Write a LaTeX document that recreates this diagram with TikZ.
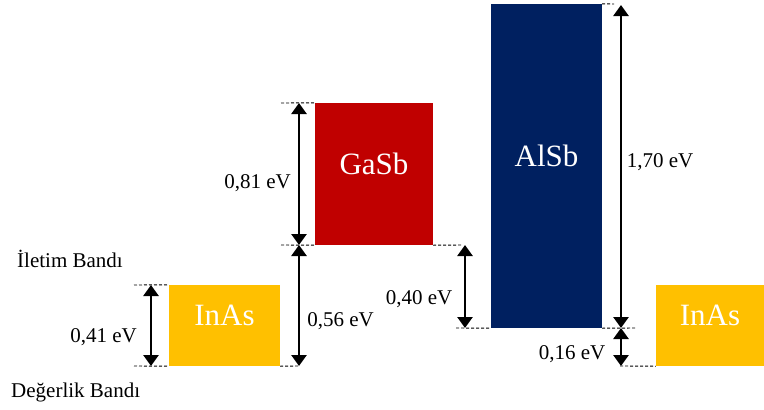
\documentclass[tikz,border=0pt]{standalone}
\usepackage{fontspec}
\setmainfont{Liberation Serif}
\usetikzlibrary{arrows.meta}
\definecolor{inascol}{HTML}{FFC000}
\definecolor{gasbcol}{HTML}{C00000}
\definecolor{alsbcol}{HTML}{002060}
\begin{document}
\begin{tikzpicture}[x=1pt,y=-1pt,
  band/.style={draw=none,inner sep=0pt,text=white,font=\fontsize{31}{31}\selectfont,text height=20pt,text depth=20pt},
  lbl/.style={anchor=base,inner sep=0pt,font=\fontsize{21}{21}\selectfont},
  gap/.style={line width=2.6pt,{Triangle[width=15pt,length=11pt]}-{Triangle[width=15pt,length=11pt]},shorten <=0pt,shorten >=0pt},
  guide/.style={line width=0.9pt,dash pattern=on 3pt off 2pt}]
\useasboundingbox (0,0) rectangle (764,410);
% bands
\node[band,fill=inascol,minimum width=111pt,minimum height=81pt] (inasA) at (224.5,325.5) {InAs};
\node[band,fill=gasbcol,minimum width=118pt,minimum height=142pt] (gasb) at (374,174) {GaSb};
\node[band,fill=alsbcol,minimum width=111pt,minimum height=324pt] (alsb) at (546.5,166) {AlSb};
\node[band,fill=inascol,minimum width=108pt,minimum height=81pt] (inasB) at (710,325.5) {InAs};
% guide coordinates
\coordinate (a1) at (134,285);
\coordinate (a2) at (134,366);
\coordinate (b1) at (299,366);
\coordinate (b2) at (281,245);
\coordinate (b3) at (281,103);
\coordinate (c1) at (463,245);
\coordinate (d1) at (456,328);
\coordinate (d2) at (636,328);
\coordinate (d3) at (614,4);
\coordinate (e1) at (620,366);
% dashed guides
\draw[guide] (a1) -- (inasA.north west);
\draw[guide] (a2) -- (inasA.south west);
\draw[guide] (inasA.south east) -- (b1);
\draw[guide] (b2) -- (gasb.south west);
\draw[guide] (b3) -- (gasb.north west);
\draw[guide] (gasb.south east) -- (c1);
\draw[guide] (d1) -- (alsb.south west);
\draw[guide] (alsb.south east) -- (d2);
\draw[guide] (alsb.north east) -- (d3);
\draw[guide] (e1) -- (inasB.south west);
% arrow end points
\coordinate (p1) at (151,285);
\coordinate (p2) at (151,366);
\coordinate (q1) at (299,366);
\coordinate (q2) at (299,245);
\coordinate (q3) at (299,103);
\coordinate (r1) at (465,245);
\coordinate (r2) at (465,328);
\coordinate (s1) at (621,5);
\coordinate (s2) at (621,328);
\coordinate (s3) at (621,366);
\draw[gap] (p1) -- (p2);
\draw[gap] (q1) -- (q2);
\draw[gap] (q2) -- (q3);
\draw[gap] (r1) -- (r2);
\draw[gap] (s1) -- (s2);
\draw[gap] (s2) -- (s3);
% labels
\node[lbl] (l041) at (103.5,342) {0,41 eV};
\node[lbl] (l056) at (340.5,326) {0,56 eV};
\node[lbl] (l081) at (257.5,188) {0,81 eV};
\node[lbl] (l040) at (419,304) {0,40 eV};
\node[lbl] (l170) at (660,167) {1,70 eV};
\node[lbl] (l016) at (572,359) {0,16 eV};
\node[lbl,anchor=base west] (ilet) at (17,267) {İletim Bandı};
\node[lbl,anchor=base west] (deger) at (11,397) {Değerlik Bandı};
\end{tikzpicture}
\end{document}
